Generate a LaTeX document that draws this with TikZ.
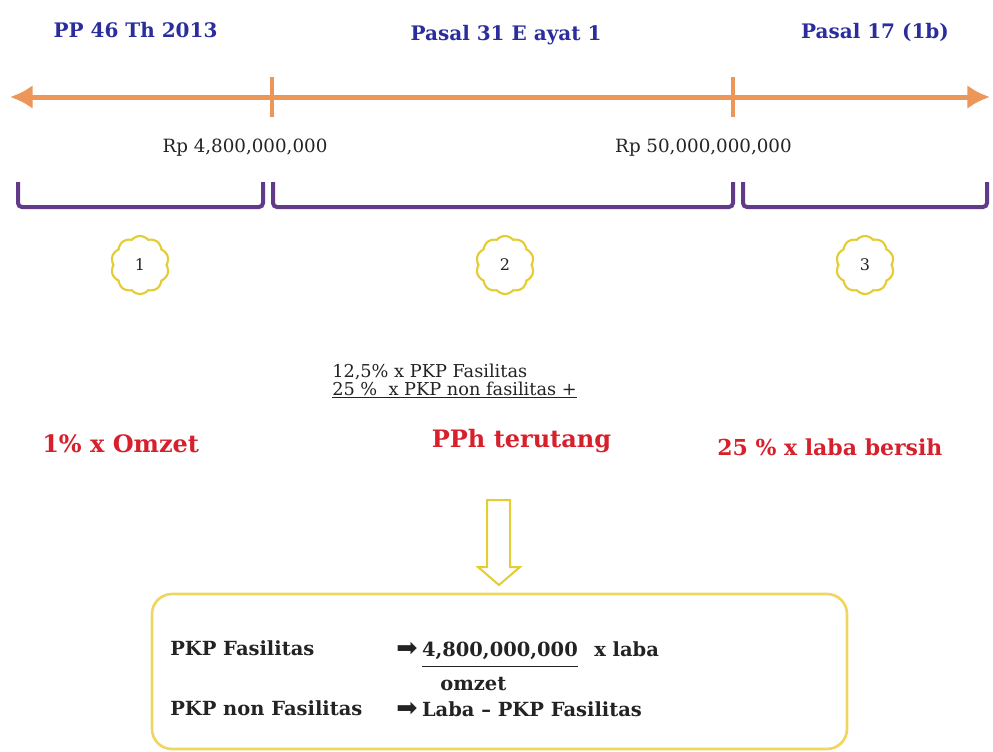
\documentclass[tikz,border=0pt]{standalone}
\usepackage{fontspec}
\setmainfont{DejaVu Serif}
\newfontfamily\arrowfont{DejaVu Sans}
\usetikzlibrary{arrows.meta, shapes.symbols, positioning}

\definecolor{headblue}{RGB}{42,45,155}
\definecolor{lawred}{RGB}{214,32,44}
\definecolor{axisorange}{RGB}{236,150,90}
\definecolor{bracketpurple}{RGB}{98,58,138}
\definecolor{cloudyellow}{RGB}{228,204,52}
\definecolor{boxyellow}{RGB}{238,214,96}
\definecolor{textgray}{RGB}{35,35,35}

\tikzset{
  heading/.style={font=\fontsize{15}{18}\selectfont\bfseries, text=headblue, anchor=base, inner sep=0pt},
  amount/.style={font=\fontsize{13.7}{16}\selectfont, text=textgray, anchor=base, inner sep=0pt},
  ratelabel/.style={font=\fontsize{18}{21}\selectfont\bfseries, text=lawred, anchor=base, inner sep=0pt},
  smalltext/.style={font=\fontsize{13.3}{16}\selectfont, text=textgray, anchor=base west, inner sep=0pt},
  boxtext/.style={font=\fontsize{14.6}{17}\selectfont\bfseries, text=textgray, anchor=base west, inner sep=0pt},
  boxarrow/.style={font=\fontsize{19}{20}\arrowfont, text=textgray, anchor=base west, inner sep=0pt},
  axis/.style={draw=axisorange, line width=3.75pt},
  bracket/.style={draw=bracketpurple, line width=3pt, rounded corners=3pt},
  zone/.style={cloud, cloud puffs=10, cloud puff arc=100, draw=cloudyellow, line width=1.6pt, minimum width=43.5pt, minimum height=43.5pt, aspect=1, font=\fontsize{12}{14}\selectfont, text=textgray, inner sep=0pt},
  hollowarrow/.style={draw=cloudyellow, line width=1.5pt, fill=white},
  resultbox/.style={draw=boxyellow, line width=2pt, rounded corners=15pt},
}

\begin{document}
\begin{tikzpicture}[x=0.75pt, y=-0.75pt]
	\useasboundingbox (0,0) rectangle (993,751);

	% headings
	\node [heading] (pp) at (135.5,37) {PP 46 Th 2013};
	\node [heading] (p31) at (506,40) {Pasal 31 E ayat 1};
	\node [heading] (p17) at (875,38) {Pasal 17 (1b)};

	% axis
	\coordinate (axL) at (10,97);
	\coordinate (axR) at (990,97);
	\coordinate (t1) at (272,97);
	\coordinate (t2) at (733,97);
	\draw [axis, {Latex[length=17pt,width=18pt]}-{Latex[length=17pt,width=18pt]}] (axL) -- (axR);
	\draw [axis, line width=3pt] ([yshift=15pt]t1) -- ([yshift=-15pt]t1);
	\draw [axis, line width=3pt] ([yshift=15pt]t2) -- ([yshift=-15pt]t2);

	\node [amount] (rp1) at (245,152) {Rp 4,800,000,000};
	\node [amount] (rp2) at (703.5,152) {Rp 50,000,000,000};

	% brackets
	\draw [bracket] (18,182) |- (263,207) -- (263,182);
	\draw [bracket] (273,182) |- (733,207) -- (733,182);
	\draw [bracket] (743,182) |- (987,207) -- (987,182);

	\node [zone] (z1) at (140,265) {1};
	\node [zone] (z2) at (505,265) {2};
	\node [zone] (z3) at (865,265) {3};

	% rates
	\node [smalltext] (fasrate) at (332,377) {12,5\% x PKP Fasilitas};
	\node [smalltext] (nonrate) at (332,395) {\underline{25 \%\ \ x PKP non fasilitas +}};
	\node [ratelabel, anchor=base west] (omzet) at (42,452) {1\% x Omzet};
	\node [ratelabel] (pph) at (521.5,447) {PPh terutang};
	\node [ratelabel, anchor=base west, font=\fontsize{16.5}{19}\selectfont\bfseries] (laba) at (717,455) {25 \% x laba bersih};

	\draw [hollowarrow] (487,500) -- (510,500) -- (510,567) -- (520,567) -- (499,585) -- (478,567) -- (487,567) -- cycle;

	% result box
	\draw [resultbox] (152,594) rectangle (847,749);
	\node [boxtext] (fas) at (170,655) {PKP Fasilitas};
	\node [boxarrow] (arr1) at (396,656) {➡};
	\node [boxtext, right=3pt of arr1.base east, anchor=base west] (num) {4,800,000,000};
	\node [boxtext, right=12pt of num.base east, anchor=base west] (xlaba) {x laba};
	\draw [textgray, line width=1pt] ([yshift=-8pt]num.base west) -- ([yshift=-8pt]num.base east);
	\node [boxtext] (om) at (440,690) {omzet};
	\node [boxtext] (nonfas) at (170,715) {PKP non Fasilitas};
	\node [boxarrow] (arr2) at (396,716) {➡};
	\node [boxtext, right=3pt of arr2.base east, anchor=base west] (labafas) {Laba – PKP Fasilitas};
\end{tikzpicture}
\end{document}
